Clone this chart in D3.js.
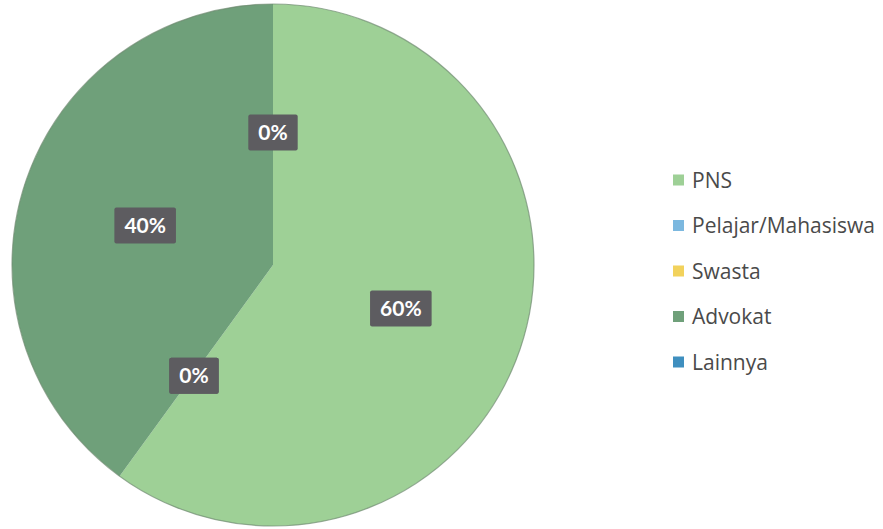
<!DOCTYPE html>
<html>
<head>
<meta charset="utf-8">
<script src="https://cdn.jsdelivr.net/npm/d3@7"></script>
<style>
  html, body { margin: 0; padding: 0; background: #ffffff; }
  svg { display: block; }
</style>
</head>
<body>
<svg id="chart" width="883" height="529"></svg>
<script>
// Occupation breakdown (percent)
const categories = ["PNS", "Pelajar/Mahasiswa", "Swasta", "Advokat", "Lainnya"];
const values = [60, 0, 0, 40, 0];
const labels = ["60%", "0%", "0%", "40%", "0%"];
const colors = ["#9ed096", "#7cb8df", "#f2d25c", "#6fa07a", "#3f8fbf"];

const svg = d3.select("#chart");
const cx = 273, cy = 265, radius = 261;

const data = categories.map((c, i) => ({ name: c, value: values[i], label: labels[i], color: colors[i] }));

const pie = d3.pie().value(d => d.value).sort(null);
const arcs = pie(data);
const arc = d3.arc().innerRadius(0).outerRadius(radius);
const labelArc = d3.arc().innerRadius(radius * 0.515).outerRadius(radius * 0.515);

const g = svg.append("g").attr("transform", `translate(${cx},${cy})`);

g.selectAll("path.slice")
  .data(arcs)
  .join("path")
  .attr("class", "slice")
  .attr("d", arc)
  .attr("fill", d => d.data.color);

// thin rim around the pie
g.append("circle")
  .attr("r", radius)
  .attr("fill", "none")
  .attr("stroke", "#6f8a70")
  .attr("stroke-width", 1.2)
  .attr("opacity", 0.7);

// data labels with dark boxes
const lbl = g.selectAll("g.lbl")
  .data(arcs)
  .join("g")
  .attr("class", "lbl")
  .attr("transform", d => {
    const [x, y] = labelArc.centroid(d);
    return `translate(${x},${y + 2})`;
  });

lbl.each(function(d) {
  const sel = d3.select(this);
  const t = sel.append("text")
    .attr("text-anchor", "middle")
    .attr("dy", "0.36em")
    .attr("font-family", "Lato, 'Open Sans', sans-serif")
    .attr("font-weight", "bold")
    .attr("font-size", 21)
    .attr("fill", "#ffffff")
    .text(d.data.label);
  const w = t.node().getComputedTextLength();
  sel.insert("rect", "text")
    .attr("x", -w / 2 - 10)
    .attr("y", -18)
    .attr("width", w + 20)
    .attr("height", 36)
    .attr("rx", 2)
    .attr("fill", "#5d5c60");
});

// legend
const legend = svg.append("g").attr("transform", "translate(673,180)");
const rowH = 45.5;
const items = legend.selectAll("g.item")
  .data(data)
  .join("g")
  .attr("class", "item")
  .attr("transform", (d, i) => `translate(0,${i * rowH})`);

items.append("rect")
  .attr("x", 0)
  .attr("y", -5.5)
  .attr("width", 11)
  .attr("height", 11)
  .attr("fill", d => d.color);

items.append("text")
  .attr("x", 19)
  .attr("dy", "0.36em")
  .attr("font-family", "'Open Sans', sans-serif")
  .attr("font-size", 21)
  .attr("fill", "#4a4a4a")
  .text(d => d.name);
</script>
</body>
</html>
